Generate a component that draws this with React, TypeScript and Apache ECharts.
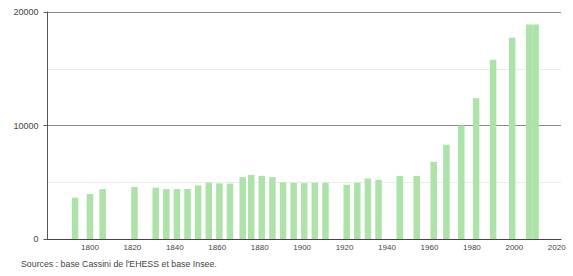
import React, { useEffect, useRef } from "react";
import * as echarts from "echarts";

const years = [1793, 1800, 1806, 1821, 1831, 1836, 1841, 1846, 1851, 1856, 1861, 1866, 1872, 1876, 1881, 1886, 1891, 1896, 1901, 1906, 1911, 1921, 1926, 1931, 1936, 1946, 1954, 1962, 1968, 1975, 1982, 1990, 1999, 2007, 2010];
const population = [3640, 3960, 4400, 4580, 4520, 4400, 4400, 4400, 4720, 4960, 4900, 4880, 5450, 5650, 5570, 5450, 4980, 4950, 4920, 4950, 4950, 4780, 4950, 5330, 5220, 5560, 5560, 6800, 8300, 10000, 12400, 15800, 17730, 18900, 18900];
const yTickLabels = [0, 10000, 20000];
const sourceText = "Sources : base Cassini de l'EHESS et base Insee.";

export default function App() {
  const ref = useRef<HTMLDivElement>(null);
  useEffect(() => {
    document.body.style.margin = "0";
    if (!ref.current) return;
    const chart = echarts.init(ref.current, null, { renderer: "svg" });
    const font = "'Liberation Sans', Arial, Helvetica, sans-serif";
    chart.setOption({
      animation: false,
      grid: { left: 47.5, right: 12, top: 12, bottom: 37, containLabel: false },
      xAxis: {
        type: "value",
        min: 1780,
        max: 2022,
        interval: 20,
        axisLine: { show: true, onZero: false, lineStyle: { color: "#444", width: 1 } },
        axisTick: { show: false },
        splitLine: { show: false },
        axisLabel: {
          showMinLabel: false,
          showMaxLabel: false,
          fontSize: 8,
          color: "#444",
          fontFamily: font,
          margin: 4,
          formatter: (v: number) => String(v),
        },
      },
      yAxis: {
        type: "value",
        min: 0,
        max: 20000,
        interval: 10000,
        axisLine: { show: true, lineStyle: { color: "#555", width: 1 } },
        axisTick: { show: true, length: 4, lineStyle: { color: "#555" } },
        axisLabel: {
          fontSize: 9,
          color: "#444",
          fontFamily: font,
          margin: 9,
          formatter: (v: number) => (yTickLabels.includes(v) ? String(v) : ""),
        },
        splitLine: { show: true, lineStyle: { color: "#8a8a8a", width: 1 } },
        minorTick: { show: false, splitNumber: 2 },
        minorSplitLine: { show: true, lineStyle: { color: "#ebebeb", width: 1 } },
      },
      series: [
        {
          type: "bar",
          data: years.map((y, i) => [y, population[i]]),
          barWidth: 6.5,
          itemStyle: { color: "#ade2a8" },
          barGap: "-100%",
        },
      ],
      graphic: [
        {
          type: "text",
          left: 21,
          top: 259,
          style: { text: sourceText, fontSize: 8.8, fill: "#444", fontFamily: font },
        },
      ],
    });
    return () => chart.dispose();
  }, []);
  return <div ref={ref} style={{ width: 573, height: 276 }} />;
}
